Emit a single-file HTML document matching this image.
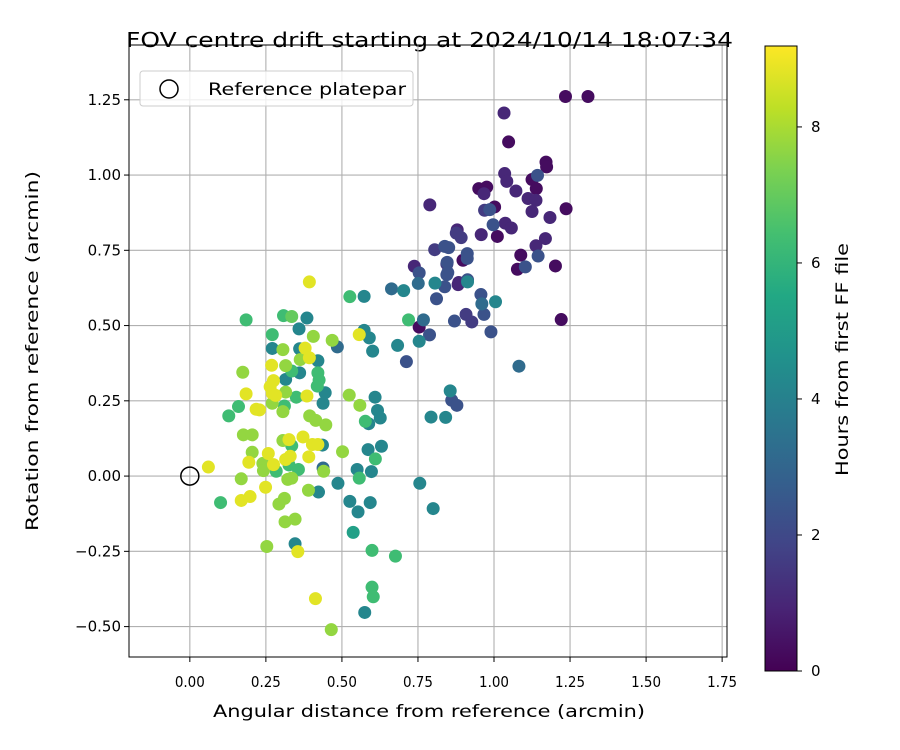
<!DOCTYPE html>
<html><head><meta charset="utf-8"><style>
body{margin:0;background:#fff;}
svg{display:block;font-family:"DejaVu Sans","Liberation Sans",sans-serif;}
</style></head><body>
<svg id="chart" width="900" height="750" viewBox="0 0 900 750">
<defs>
<linearGradient id="vir" x1="0" y1="1" x2="0" y2="0">
<stop offset="0" stop-color="#440154"/><stop offset="0.1" stop-color="#482475"/><stop offset="0.2" stop-color="#414487"/><stop offset="0.3" stop-color="#355f8d"/><stop offset="0.4" stop-color="#2a788e"/><stop offset="0.5" stop-color="#21918c"/><stop offset="0.6" stop-color="#22a884"/><stop offset="0.7" stop-color="#44bf70"/><stop offset="0.8" stop-color="#7ad151"/><stop offset="0.9" stop-color="#bddf26"/><stop offset="1" stop-color="#fde725"/>
</linearGradient>
<clipPath id="clip"><rect x="129" y="45" width="598" height="612"/></clipPath>
</defs>
<text x="126" y="47" font-size="20" textLength="607" lengthAdjust="spacingAndGlyphs">FOV centre drift starting at 2024/10/14 18:07:34</text>
<g id="grid"></g>
<g id="points" clip-path="url(#clip)"></g>
<rect x="129" y="45" width="598" height="612" fill="none" stroke="#000" stroke-width="1"/>
<g id="ticks"></g>
<text x="213" y="717" font-size="17" textLength="432" lengthAdjust="spacingAndGlyphs">Angular distance from reference (arcmin)</text>
<text transform="translate(38,531) rotate(-90)" font-size="17" textLength="360" lengthAdjust="spacingAndGlyphs">Rotation from reference (arcmin)</text>
<g>
<rect x="140" y="71" width="273" height="35" rx="3" fill="#fff" fill-opacity="0.8" stroke="#ccc"/>
<circle cx="169" cy="89" r="9" fill="none" stroke="#000" stroke-width="1.5"/>
<text x="208" y="95" font-size="17" textLength="198" lengthAdjust="spacingAndGlyphs">Reference platepar</text>
</g>
<rect x="765" y="46" width="32" height="625" fill="url(#vir)" stroke="#000" stroke-width="1"/>
<g id="cbticks"></g>
<text transform="translate(848,476) rotate(-90)" font-size="17" textLength="233" lengthAdjust="spacingAndGlyphs">Hours from first FF file</text>
</svg>
<script>
const xs=[.393,.526,.573,.185,.308,.335,.385,.359,.271,.406,.468,.485,.557,.573,.590,.601,.683,.719,.754,.768,.754,.712,.271,.306,.361,.379,.393,.363,.421,.269,.315,.335,.361,.421,.425,.419,.445,.438,.174,.185,.275,.264,.271,.282,.315,.315,.350,.385,.524,.559,.609,.617,.626,.577,.588,.160,.128,.218,.229,.271,.306,.311,.394,.414,.447,.176,.205,.306,.326,.335,.372,.403,.421,.436,.502,.586,.630,.610,.597,.550,.557,.487,.438,.440,.205,.194,.258,.275,.240,.242,.284,.315,.330,.326,.357,.391,.061,.169,.322,.335,.249,.423,.390,.101,.169,.198,.293,.311,.526,.553,.593,.313,.346,.537,.599,.676,.253,.346,.355,.599,.603,.575,.413,.465,.756,.793,.800,
.738,.754,.751,.845,.845,.838,.882,.913,.913,.806,.811,.957,.960,1.005,.967,.870,.908,.927,.990,1.082,.663,.703,.788,.856,.861,.878,.841,
1.235,1.309,1.033,1.048,1.171,1.173,1.035,1.042,1.072,1.125,1.143,1.139,1.112,1.138,1.125,1.184,1.237,.950,.976,.967,1.002,.969,.986,.789,.879,.876,.892,.958,.997,1.011,1.037,1.057,1.169,1.138,1.145,1.088,1.077,1.103,1.202,1.221,.805,.838,.851,.898,.912,.912,.846,.848,.884];
const ys=[.645,.596,.597,.519,.533,.530,.525,.489,.470,.464,.451,.429,.470,.484,.459,.415,.434,.519,.495,.519,.448,.380,.424,.420,.423,.425,.393,.387,.383,.368,.367,.349,.343,.343,.319,.299,.277,.242,.345,.273,.317,.297,.275,.268,.321,.279,.262,.266,.269,.235,.262,.218,.193,.182,.174,.231,.200,.222,.220,.242,.214,.233,.200,.185,.170,.137,.137,.118,.121,.101,.130,.105,.105,.103,.081,.088,.099,.057,.015,.022,-.007,-.024,.027,.016,.079,.046,.075,.038,.042,.018,.016,.055,.066,.037,.022,.064,.030,-.009,-.011,-.007,-.037,-.053,-.047,-.088,-.081,-.068,-.093,-.074,-.084,-.119,-.088,-.152,-.143,-.187,-.247,-.266,-.234,-.225,-.251,-.369,-.401,-.453,-.407,-.510,-.024,.196,-.108,
.697,.675,.640,.704,.669,.629,.636,.652,.645,.641,.589,.603,.572,.579,.537,.515,.537,.512,.479,.365,.622,.616,.469,.283,.252,.235,.195,
1.261,1.261,1.206,1.110,1.043,1.027,1.005,.979,.947,.985,.999,.955,.922,.916,.879,.859,.888,.955,.960,.938,.894,.883,.885,.901,.818,.807,.792,.802,.835,.796,.840,.824,.789,.765,.731,.734,.687,.695,.698,.520,.752,.763,.759,.717,.739,.723,.710,.676,.643];
const hours=[8.8,6.3,4.2,6.3,6.3,7.0,4.2,4.2,6.3,7.7,7.7,3.2,8.8,4.2,4.2,4.2,4.2,6.3,0.3,3.2,4.2,2.3,4.2,7.7,4.2,8.8,8.8,7.7,4.2,8.8,7.7,6.3,4.2,6.3,6.3,6.3,4.2,4.2,7.7,8.8,8.8,8.8,8.8,8.8,4.2,7.7,6.3,8.8,7.7,7.7,4.2,4.2,4.2,6.3,4.2,6.3,6.3,8.8,8.8,7.7,7.7,6.3,7.7,7.7,7.7,7.7,7.7,7.7,8.8,6.3,8.8,8.8,8.8,4.2,7.7,4.2,4.2,6.3,4.2,4.2,6.3,4.2,3.2,7.7,7.7,8.8,8.8,8.8,7.7,7.7,6.3,8.8,8.8,6.3,6.3,8.8,8.8,7.7,7.7,7.7,8.8,4.2,7.7,6.3,8.8,8.8,7.7,7.7,4.2,4.2,4.2,7.7,7.7,5.2,6.3,6.3,7.7,4.2,8.8,6.3,6.3,4.2,8.8,7.7,4.2,4.2,4.2,
1.0,2.3,3.2,1.6,2.3,2.3,1.0,2.3,4.2,4.2,2.3,2.3,3.2,4.2,2.3,2.3,1.6,1.6,2.3,3.2,3.2,4.2,2.3,4.2,2.3,2.3,4.2,
0.3,0.3,1.0,0.3,0.3,0.3,1.0,1.0,1.0,0.3,2.3,0.3,1.0,1.0,1.0,1.0,0.3,0.3,0.3,1.0,0.3,1.6,2.3,1.0,1.0,1.6,1.6,1.0,2.3,0.3,1.0,1.0,1.0,1.0,2.3,0.3,0.3,2.3,0.3,0.3,1.6,2.3,2.3,0.3,2.3,2.3,2.3,2.3,1.0];
const xTicks=["0.00","0.25","0.50","0.75","1.00","1.25","1.50","1.75"];
const yTicks=["−0.50","−0.25","0.00","0.25","0.50","0.75","1.00","1.25"];
const cbTicks=["0","2","4","6","8"];
const X0=-0.2,X1=1.766,Y0=-0.601,Y1=1.432,L=129,R=727,T=45,B=657,VMAX=9.19;
const sx=v=>L+(v-X0)/(X1-X0)*(R-L);
const sy=v=>B-(v-Y0)/(Y1-Y0)*(B-T);
const cy=v=>671-v/VMAX*625;
const stops=["#440154","#482475","#414487","#355f8d","#2a788e","#21918c","#22a884","#44bf70","#7ad151","#bddf26","#fde725"];
function hex(c){return [1,3,5].map(i=>parseInt(c.substr(i,2),16));}
function viridis(t){t=Math.max(0,Math.min(1,t));const p=t*10,i=Math.min(9,Math.floor(p)),f=p-i;const a=hex(stops[i]),b=hex(stops[i+1]);return "rgb("+a.map((v,k)=>Math.round(v+(b[k]-v)*f)).join(",")+")";}
const NS="http://www.w3.org/2000/svg";
const grid=document.getElementById("grid"),ticks=document.getElementById("ticks"),pts=document.getElementById("points"),cb=document.getElementById("cbticks");
function mk(tag,attrs,parent){const e=document.createElementNS(NS,tag);for(const k in attrs)e.setAttribute(k,attrs[k]);parent.appendChild(e);return e;}
xTicks.forEach(s=>{const v=parseFloat(s.replace("−","-"));const x=sx(v);
const g=mk("line",{x1:x,x2:x,y1:T,y2:B,stroke:"#b0b0b0","stroke-width":1.1},grid);


const t=mk("line",{x1:x,x2:x,y1:B,y2:B+5,stroke:"#000"},ticks);


const l=mk("text",{x:x,y:B+30,"text-anchor":"middle","font-size":15,textLength:30,lengthAdjust:"spacingAndGlyphs"},ticks);l.textContent=s;

});
yTicks.forEach(s=>{const v=parseFloat(s.replace("−","-"));const y=sy(v);
const g=mk("line",{x1:L,x2:R,y1:y,y2:y,stroke:"#b0b0b0","stroke-width":1.1},grid);


const t=mk("line",{x1:L-5,x2:L,y1:y,y2:y,stroke:"#000"},ticks);


const l=mk("text",{x:L-8,y:y+5,"text-anchor":"end","font-size":15},ticks);l.textContent=s;

});
const order=hours.map((h,i)=>i).sort((a,b)=>hours[a]-hours[b]===0?a-b:hours[a]-hours[b]);
order.forEach(i=>{const c=mk("circle",{cx:sx(xs[i]),cy:sy(ys[i]),r:6.5,fill:viridis(hours[i]/VMAX)},pts);

});
const ref=mk("circle",{cx:sx(0),cy:sy(0),r:9,fill:"none",stroke:"#000","stroke-width":1.5},pts);


cbTicks.forEach(s=>{const y=cy(parseFloat(s));
const t=mk("line",{x1:797,x2:802,y1:y,y2:y,stroke:"#000"},cb);


const l=mk("text",{x:811,y:y+5,"font-size":15},cb);l.textContent=s;

});
</script>
</body></html>
